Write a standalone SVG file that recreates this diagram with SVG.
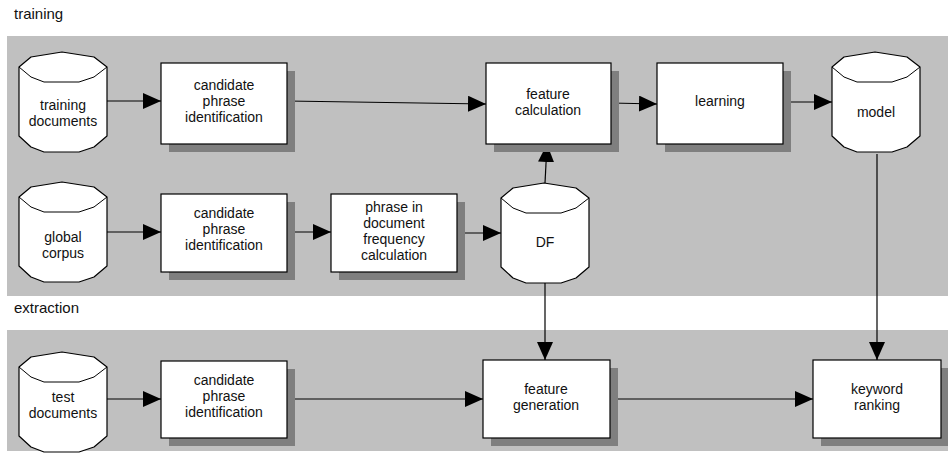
<svg xmlns="http://www.w3.org/2000/svg" xmlns:xlink="http://www.w3.org/1999/xlink" width="948" height="461" viewBox="0 0 948 461">
<style>
.band{fill:#c0c0c0}
.shadow{fill:#7f7f7f}
.box{fill:#fff;stroke:#000;stroke-width:1.2}
.cyl{fill:#fff;stroke:#000;stroke-width:1.2;stroke-linejoin:round}
.cylin{fill:none;stroke:#000;stroke-width:1}
text{font-family:"Liberation Sans",Arial,sans-serif;font-size:14px;fill:#111}
.lbl{font-size:15px}
.c{text-anchor:middle}
.edge{fill:none;stroke:#000;stroke-width:1.2}
</style>
<defs>
<marker id="ah" markerUnits="userSpaceOnUse" markerWidth="18" markerHeight="16" refX="18" refY="8" orient="auto">
<path d="M0,0 L18,8 L0,16 Z" fill="#000"/>
</marker>
<g id="cylshape">
<path class="cyl" d="M0,15 L12,5 L43,0 L75,5 L88,15 L88,84 L75,95 L60,100 L25,100 L12,95 L0,84 Z"/>
<path class="cylin" d="M0,15 L12,25 L25,30 L60,30 L75,25 L88,15"/>
</g>
</defs>
<rect width="948" height="461" fill="#fff"/>
<g id="bands">
<rect class="band" x="7" y="36" width="941" height="260"/>
<rect class="band" x="7" y="330" width="941" height="121"/>
<text class="lbl" x="14" y="19">training</text>
<text class="lbl" x="14" y="313">extraction</text>
</g>
<g id="connectors">
<line class="edge" x1="107" y1="101" x2="161" y2="101" marker-end="url(#ah)"/>
<line class="edge" x1="287" y1="101" x2="486" y2="104" marker-end="url(#ah)"/>
<line class="edge" x1="107" y1="232" x2="161" y2="232" marker-end="url(#ah)"/>
<line class="edge" x1="287" y1="232" x2="331" y2="232" marker-end="url(#ah)"/>
<line class="edge" x1="457" y1="233" x2="501" y2="233" marker-end="url(#ah)"/>
<line class="edge" x1="545" y1="183" x2="547" y2="144" marker-end="url(#ah)"/>
<line class="edge" x1="611" y1="103" x2="657" y2="104" marker-end="url(#ah)"/>
<line class="edge" x1="783" y1="102" x2="832" y2="102" marker-end="url(#ah)"/>
<line class="edge" x1="877" y1="154" x2="877" y2="360" marker-end="url(#ah)"/>
<line class="edge" x1="545" y1="283" x2="545" y2="360" marker-end="url(#ah)"/>
<line class="edge" x1="107" y1="399" x2="161" y2="399" marker-end="url(#ah)"/>
<line class="edge" x1="287" y1="399" x2="483" y2="399" marker-end="url(#ah)"/>
<line class="edge" x1="610" y1="399" x2="813" y2="399" marker-end="url(#ah)"/>
</g>
<g id="training-documents">
<use href="#cylshape" x="19" y="52"/>
<text class="c" x="63" y="110">training</text>
<text class="c" x="63" y="126">documents</text>
</g>
<g id="global-corpus">
<use href="#cylshape" x="19" y="182"/>
<text class="c" x="63" y="242">global</text>
<text class="c" x="63" y="258">corpus</text>
</g>
<g id="df">
<use href="#cylshape" x="501" y="183"/>
<text class="c" x="545" y="247">DF</text>
</g>
<g id="model">
<use href="#cylshape" x="832" y="52"/>
<text class="c" x="876" y="117">model</text>
</g>
<g id="test-documents">
<use href="#cylshape" x="19" y="352"/>
<text class="c" x="63" y="402">test</text>
<text class="c" x="63" y="418">documents</text>
</g>
<g id="cpi-training">
<rect class="shadow" x="169" y="71" width="126" height="81"/>
<rect class="box" x="161" y="63" width="126" height="81"/>
<text class="c" x="224" y="90">candidate</text>
<text class="c" x="224" y="106">phrase</text>
<text class="c" x="224" y="122">identification</text>
</g>
<g id="feature-calculation">
<rect class="shadow" x="494" y="71" width="125" height="81"/>
<rect class="box" x="486" y="63" width="125" height="81"/>
<text class="c" x="548" y="99">feature</text>
<text class="c" x="548" y="115">calculation</text>
</g>
<g id="learning">
<rect class="shadow" x="665" y="71" width="126" height="81"/>
<rect class="box" x="657" y="63" width="126" height="81"/>
<text class="c" x="720" y="106">learning</text>
</g>
<g id="cpi-global">
<rect class="shadow" x="169" y="202" width="126" height="78"/>
<rect class="box" x="161" y="194" width="126" height="78"/>
<text class="c" x="224" y="218">candidate</text>
<text class="c" x="224" y="234">phrase</text>
<text class="c" x="224" y="250">identification</text>
</g>
<g id="phrase-df-calc">
<rect class="shadow" x="339" y="202" width="126" height="78"/>
<rect class="box" x="331" y="194" width="126" height="78"/>
<text class="c" x="394" y="212">phrase in</text>
<text class="c" x="394" y="228">document</text>
<text class="c" x="394" y="244">frequency</text>
<text class="c" x="394" y="260">calculation</text>
</g>
<g id="cpi-test">
<rect class="shadow" x="169" y="369" width="126" height="77"/>
<rect class="box" x="161" y="361" width="126" height="77"/>
<text class="c" x="224" y="385">candidate</text>
<text class="c" x="224" y="401">phrase</text>
<text class="c" x="224" y="417">identification</text>
</g>
<g id="feature-generation">
<rect class="shadow" x="491" y="368" width="127" height="78"/>
<rect class="box" x="483" y="360" width="127" height="78"/>
<text class="c" x="546" y="394">feature</text>
<text class="c" x="546" y="410">generation</text>
</g>
<g id="keyword-ranking">
<rect class="shadow" x="821" y="368" width="128" height="78"/>
<rect class="box" x="813" y="360" width="128" height="78"/>
<text class="c" x="877" y="394">keyword</text>
<text class="c" x="877" y="410">ranking</text>
</g>
</svg>
